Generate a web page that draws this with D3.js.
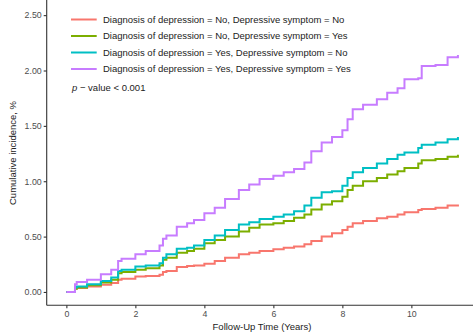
<!DOCTYPE html>
<html>
<head>
<meta charset="utf-8">
<script src="https://cdn.jsdelivr.net/npm/d3@7"></script>
<style>
  body { margin: 0; background: #fff; }
  text { font-family: 'Liberation Sans', Arial, sans-serif; }
</style>
</head>
<body>
<svg width="473" height="333"></svg>
<script>
// follow-up years (step points) and cumulative incidence per group
const years = [0, 0.25, 0.3, 0.6, 1.0, 1.3, 1.5, 1.6, 2.0, 2.3, 2.7, 2.8, 2.9, 3.2, 3.5, 3.7,
  4.0, 4.3, 4.6, 5.0, 5.3, 5.6, 6.0, 6.3, 6.6, 6.9, 7.1, 7.4, 7.7, 8.0, 8.15, 8.3, 8.6,
  9.0, 9.3, 9.6, 9.8, 10.2, 10.3, 10.7, 11.05, 11.35];

const noNo = [0, 0.03, 0.035, 0.05, 0.066, 0.08, 0.11, 0.12, 0.14, 0.145, 0.155, 0.18, 0.19,
  0.225, 0.235, 0.24, 0.255, 0.28, 0.31, 0.34, 0.355, 0.37, 0.385, 0.4, 0.41, 0.43, 0.46,
  0.5, 0.53, 0.56, 0.59, 0.62, 0.64, 0.665, 0.68, 0.7, 0.72, 0.74, 0.75, 0.76, 0.78, 0.79];

const noYes = [0, 0.03, 0.04, 0.06, 0.085, 0.11, 0.17, 0.18, 0.2, 0.215, 0.24, 0.29, 0.31,
  0.355, 0.37, 0.39, 0.44, 0.47, 0.5, 0.545, 0.58, 0.61, 0.62, 0.64, 0.67, 0.7, 0.745,
  0.79, 0.82, 0.86, 0.92, 0.96, 1.0, 1.03, 1.06, 1.09, 1.12, 1.16, 1.19, 1.2, 1.22, 1.24];

const yesNo = [0, 0.04, 0.05, 0.07, 0.1, 0.13, 0.19, 0.2, 0.23, 0.24, 0.26, 0.31, 0.34,
  0.39, 0.4, 0.42, 0.47, 0.51, 0.56, 0.61, 0.63, 0.66, 0.68, 0.7, 0.73, 0.78, 0.85,
  0.9, 0.91, 0.96, 1.03, 1.08, 1.12, 1.16, 1.2, 1.24, 1.26, 1.3, 1.33, 1.35, 1.38, 1.4];

const yesYes = [0, 0.07, 0.09, 0.11, 0.16, 0.2, 0.28, 0.3, 0.34, 0.37, 0.42, 0.48, 0.51,
  0.59, 0.62, 0.65, 0.71, 0.76, 0.84, 0.92, 0.97, 1.02, 1.05, 1.08, 1.11, 1.17, 1.27,
  1.35, 1.4, 1.46, 1.56, 1.65, 1.69, 1.74, 1.8, 1.84, 1.92, 1.93, 2.04, 2.05, 2.12, 2.14];

const groups = [
  'Diagnosis of depression = No, Depressive symptom = No',
  'Diagnosis of depression = No, Depressive symptom = Yes',
  'Diagnosis of depression = Yes, Depressive symptom = No',
  'Diagnosis of depression = Yes, Depressive symptom = Yes'
];
const colors = ['#F8766D', '#7CAE00', '#00BFC4', '#C77CFF'];
const seriesValues = [noNo, noYes, yesNo, yesYes];

const xTicks = [0, 2, 4, 6, 8, 10];
const yTicks = [0, 0.5, 1, 1.5, 2, 2.5];

const svg = d3.select('svg');

// panel area
const x = d3.scaleLinear().domain([-0.57, 11.92]).range([46.7, 477.6]);
const y = d3.scaleLinear().domain([-0.125, 2.625]).range([305.8, 1.3]);

// x axis
const xAxis = svg.append('g')
  .attr('transform', 'translate(0,305.3)')
  .call(d3.axisBottom(x).tickValues(xTicks).tickFormat(d3.format('d')).tickSize(3).tickPadding(2));
xAxis.select('.domain').attr('d', `M${x.range()[0]},0H473`);

// y axis
const yAxis = svg.append('g')
  .attr('transform', 'translate(46.7,0)')
  .call(d3.axisLeft(y).tickValues(yTicks).tickFormat(d3.format('.2f')).tickSize(3).tickPadding(2));
yAxis.select('.domain').attr('d', `M0,${y.range()[1] - 1.3}V305.3`);

svg.selectAll('.domain').attr('stroke', '#333').attr('stroke-width', 1.1);
svg.selectAll('.tick line').attr('stroke', '#333').attr('stroke-width', 1.1);
svg.selectAll('.tick text').attr('fill', '#4d4d4d').attr('font-size', 8.8)
  .attr('font-family', "'Liberation Sans', Arial, sans-serif");

// axis titles
svg.append('text')
  .attr('x', 262).attr('y', 330)
  .attr('text-anchor', 'middle')
  .attr('font-size', 9.5)
  .attr('fill', '#222')
  .text('Follow-Up Time (Years)');

svg.append('text')
  .attr('transform', 'translate(16,153) rotate(-90)')
  .attr('text-anchor', 'middle')
  .attr('font-size', 9.5)
  .attr('fill', '#222')
  .text('Cumulative incidence, %');

// curves
const line = d3.line()
  .x((d) => x(d[0]))
  .y((d) => y(d[1]))
  .curve(d3.curveStepAfter);

seriesValues.forEach((vals, i) => {
  svg.append('path')
    .datum(years.map((t, j) => [t, vals[j]]))
    .attr('d', line)
    .attr('fill', 'none')
    .attr('stroke', colors[i])
    .attr('stroke-width', 2);
});

// legend
const legend = svg.append('g');
groups.forEach((name, i) => {
  const ly = 19.5 + i * 16.5;
  legend.append('line')
    .attr('x1', 71).attr('x2', 96.7)
    .attr('y1', ly).attr('y2', ly)
    .attr('stroke', colors[i])
    .attr('stroke-width', 2);
  legend.append('text')
    .attr('x', 103).attr('y', ly)
    .attr('dy', '0.35em')
    .attr('font-size', 9.5)
    .attr('fill', '#222')
    .text(name);
});

const pv = svg.append('text')
  .attr('x', 72).attr('y', 87.3)
  .attr('dy', '0.35em')
  .attr('font-size', 9.5)
  .attr('fill', '#222');
pv.append('tspan').attr('font-style', 'italic').text('p');
pv.append('tspan').text(' \u2212 value < 0.001');
</script>
</body>
</html>
